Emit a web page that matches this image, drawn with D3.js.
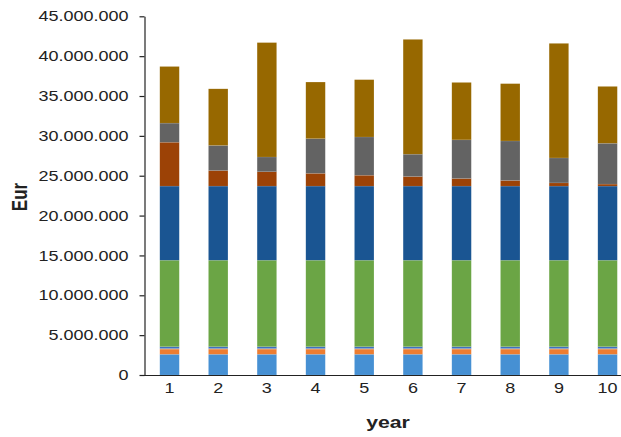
<!DOCTYPE html>
<html>
<head>
<meta charset="utf-8">
<script src="https://cdn.jsdelivr.net/npm/d3@7"></script>
<style>
  html, body { margin: 0; padding: 0; background: #fff; }
  svg { display: block; font-family: "Liberation Sans", Arial, sans-serif; }
</style>
</head>
<body>
<svg id="chart" width="621" height="437"></svg>
<script>
// Years on the category axis
const years = ["1", "2", "3", "4", "5", "6", "7", "8", "9", "10"];

// Cost components per year (Eur), bottom to top of each stack
const s1 = [2600000, 2600000, 2600000, 2600000, 2600000, 2600000, 2600000, 2600000, 2600000, 2600000];
const s2 = [650000, 650000, 650000, 650000, 650000, 650000, 650000, 650000, 650000, 650000];
const s3 = [30000, 30000, 30000, 30000, 30000, 30000, 30000, 30000, 30000, 30000];
const s4 = [30000, 30000, 30000, 30000, 30000, 30000, 30000, 30000, 30000, 30000];
const s5 = [240000, 240000, 240000, 240000, 240000, 240000, 240000, 240000, 240000, 240000];
const s6 = [10850000, 10850000, 10850000, 10850000, 10850000, 10850000, 10850000, 10850000, 10850000, 10850000];
const s7 = [9300000, 9300000, 9300000, 9300000, 9300000, 9300000, 9300000, 9300000, 9300000, 9300000];
const s8 = [5500000, 1950000, 1800000, 1600000, 1360000, 1200000, 950000, 700000, 400000, 250000];
const s9 = [2400000, 3150000, 1850000, 4350000, 4800000, 2800000, 4850000, 4960000, 3130000, 5120000];
const s10 = [7100000, 7100000, 14350000, 7100000, 7190000, 14400000, 7200000, 7190000, 14370000, 7130000];

const yTicks = [0, 5000000, 10000000, 15000000, 20000000, 25000000, 30000000, 35000000, 40000000, 45000000];

const seriesKeys = ["s1", "s2", "s3", "s4", "s5", "s6", "s7", "s8", "s9", "s10"];
const seriesData = [s1, s2, s3, s4, s5, s6, s7, s8, s9, s10];
const colors = ["#4690D3", "#ED7D31", "#A5A5A5", "#FFC000", "#3F70C2",
                "#6BA545", "#1A5592", "#9C4206", "#636363", "#976800"];

const rows = years.map((y, i) => {
  const r = { year: y };
  seriesKeys.forEach((k, j) => { r[k] = seriesData[j][i]; });
  return r;
});

const svg = d3.select("#chart");
const axisX = 144.5, baseY = 375, topY = 16.3;
const sx = 1.25; // horizontal text stretch

const x = d3.scaleBand().domain(years).range([145.2, 631.9])
  .paddingInner(0.6).paddingOuter(0.3);
const y = d3.scaleLinear().domain([0, 45000000]).range([baseY, topY]);

const stack = d3.stack().keys(seriesKeys)(rows);

// Stacked bars
svg.append("g").selectAll("g").data(stack).join("g")
  .attr("fill", (d, i) => colors[i])
  .selectAll("rect").data(d => d).join("rect")
  .attr("x", d => x(d.data.year))
  .attr("width", x.bandwidth())
  .attr("y", d => y(d[1]))
  .attr("height", d => y(d[0]) - y(d[1]))
  .attr("stroke", "rgba(255,255,255,0.18)")
  .attr("stroke-width", 0.5);

const fmt = v => v === 0 ? "0" : d3.format(",")(v).replace(/,/g, ".");

// Y axis
const yAxis = svg.append("g")
  .attr("transform", `translate(${axisX},0)`)
  .call(d3.axisLeft(y).tickValues(yTicks).tickFormat(fmt).tickSize(5).tickSizeOuter(0));
yAxis.select(".domain").attr("stroke", "#222").attr("stroke-width", 1.2);
yAxis.selectAll(".tick line").attr("stroke", "#222").attr("stroke-width", 1.2);
yAxis.selectAll(".tick text")
  .attr("fill", "#222")
  .attr("font-size", 14.4)
  .attr("font-family", "Liberation Sans, Arial, sans-serif")
  .attr("x", -16 / sx)
  .attr("transform", `scale(${sx},1)`);

// X axis
const xAxis = svg.append("g")
  .attr("transform", `translate(0,${baseY})`)
  .call(d3.axisBottom(x).tickSize(0).tickSizeOuter(0));
xAxis.select(".domain").attr("d", `M${axisX - 4},0.5H621`).attr("stroke", "#222").attr("stroke-width", 1.2);
xAxis.selectAll(".tick text")
  .attr("fill", "#222")
  .attr("font-size", 14.4)
  .attr("font-family", "Liberation Sans, Arial, sans-serif")
  .attr("y", 8)
  .attr("transform", `scale(${sx},1)`);

// Axis titles
svg.append("text")
  .attr("transform", `translate(388,428) scale(${sx},1)`)
  .attr("text-anchor", "middle")
  .attr("font-weight", "bold")
  .attr("font-size", 17)
  .attr("fill", "#222")
  .text("year");

svg.append("text")
  .attr("transform", `translate(27,197) scale(${sx},1) rotate(-90)`)
  .attr("text-anchor", "middle")
  .attr("font-weight", "bold")
  .attr("font-size", 17)
  .attr("fill", "#222")
  .text("Eur");
</script>
</body>
</html>
